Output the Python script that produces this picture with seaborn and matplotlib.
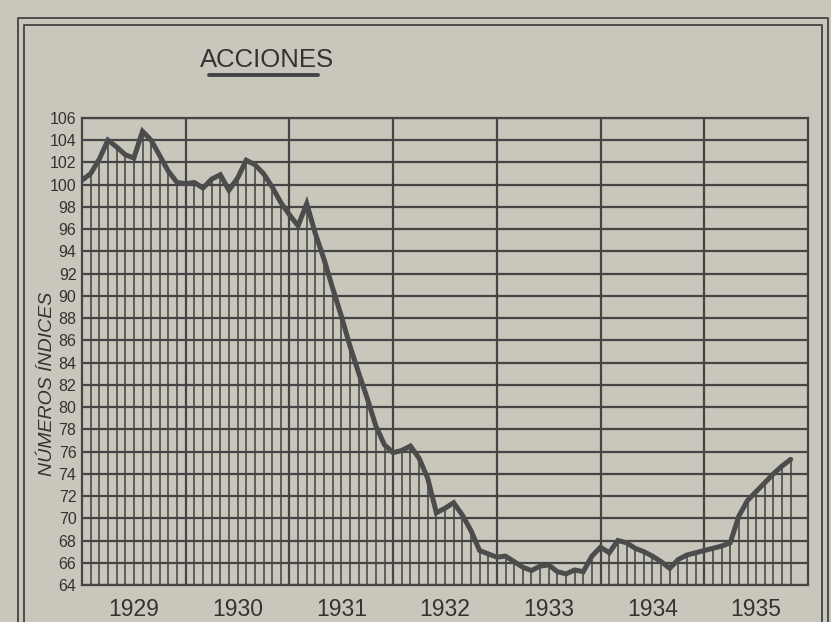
import matplotlib
matplotlib.use("Agg")
import matplotlib.pyplot as plt
from matplotlib.lines import Line2D
import seaborn as sns
import numpy as np
import pandas as pd

# ---- data (monthly index numbers, Jan 1929 .. Nov 1935) ----
years = ["1929", "1930", "1931", "1932", "1933", "1934", "1935"]
idx_1929 = [100.4, 101.0, 102.3, 104.0, 103.4, 102.7, 102.4, 104.8, 104.0, 102.6, 101.2, 100.2]
idx_1930 = [100.1, 100.2, 99.7, 100.5, 100.9, 99.5, 100.6, 102.2, 101.8, 101.0, 99.8, 98.4]
idx_1931 = [97.3, 96.3, 98.3, 95.6, 93.3, 90.7, 88.2, 85.5, 83.1, 80.8, 78.3, 76.6]
idx_1932 = [75.9, 76.1, 76.5, 75.4, 73.6, 70.5, 70.9, 71.4, 70.3, 68.9, 67.1, 66.8]
idx_1933 = [66.5, 66.6, 66.1, 65.6, 65.3, 65.7, 65.8, 65.2, 65.0, 65.35, 65.2, 66.6]
idx_1934 = [67.4, 66.9, 68.0, 67.8, 67.3, 67.0, 66.6, 66.1, 65.5, 66.3, 66.7, 66.9]
idx_1935 = [67.1, 67.3, 67.5, 67.8, 70.2, 71.6, 72.4, 73.2, 74.0, 74.7, 75.3]
y_ticks = list(range(64, 107, 2))
title = "ACCIONES"
y_label = "NÚMEROS ÍNDICES"

values = idx_1929 + idx_1930 + idx_1931 + idx_1932 + idx_1933 + idx_1934 + idx_1935
df = pd.DataFrame({"mes": np.arange(len(values)), "indice": values})

paper = "#c9c7bc"
ink = "#454545"
curve = "#4c4c4c"
text_c = "#333333"

sns.set_theme(style="white")
plt.rcParams["font.family"] = ["Liberation Sans", "DejaVu Sans"]

W, H = 831, 622
fig = plt.figure(figsize=(W / 100, H / 100), dpi=100)
fig.patch.set_facecolor(paper)

L, R, T, B = 82, 808, 118, 585
ax = fig.add_axes([L / W, 1 - B / H, (R - L) / W, (B - T) / H])
ax.set_facecolor(paper)
ax.set_xlim(0, 84)
ax.set_ylim(64, 106)

# horizontal grid every 2 units
for yv in y_ticks:
    ax.axhline(yv, color=ink, lw=1.6, zorder=1)
# year separators
for k in range(1, len(years)):
    ax.axvline(12 * k, color=ink, lw=1.6, zorder=1)
# monthly hatching under the curve
ax.vlines(df["mes"], 64, df["indice"], color=ink, lw=1.15, zorder=2)
# the curve
sns.lineplot(data=df, x="mes", y="indice", ax=ax, color=curve, lw=3.6,
             zorder=3, solid_joinstyle="miter")

for s in ax.spines.values():
    s.set_color(ink)
    s.set_linewidth(1.6)

ax.set_yticks(y_ticks)
ax.set_yticklabels([str(v) for v in y_ticks], fontsize=11.5, color=text_c)
ax.set_xticks([12 * i + 6 for i in range(len(years))])
ax.set_xticklabels(years, fontsize=16.5, color=text_c)
ax.tick_params(axis="y", length=3, width=1, color=ink, pad=1)
ax.tick_params(axis="x", length=0, pad=9)
ax.set_xlabel("")
ax.set_ylabel(y_label, fontsize=14, style="italic", color=text_c)
ax.yaxis.set_label_coords((56 - L) / (R - L), (B - 384) / (B - T))

# title with underline
fig.text(267 / W, 1 - 60 / H, title, ha="center", va="center",
         fontsize=18.5, color=text_c)
fig.add_artist(Line2D([209 / W, 318 / W], [1 - 75 / H, 1 - 75 / H],
                      transform=fig.transFigure, color="#444444", lw=2.8))

# double outer frame
def frame(x0, x1, y0):
    xs = [x0 / W, x0 / W, x1 / W, x1 / W]
    ys = [0, 1 - y0 / H, 1 - y0 / H, 0]
    fig.add_artist(Line2D(xs, ys, transform=fig.transFigure, color="#4c4c4c", lw=1.4))

frame(18, 828, 18)
frame(24, 822, 25)

fig.savefig("out.png", dpi=100, facecolor=paper)
